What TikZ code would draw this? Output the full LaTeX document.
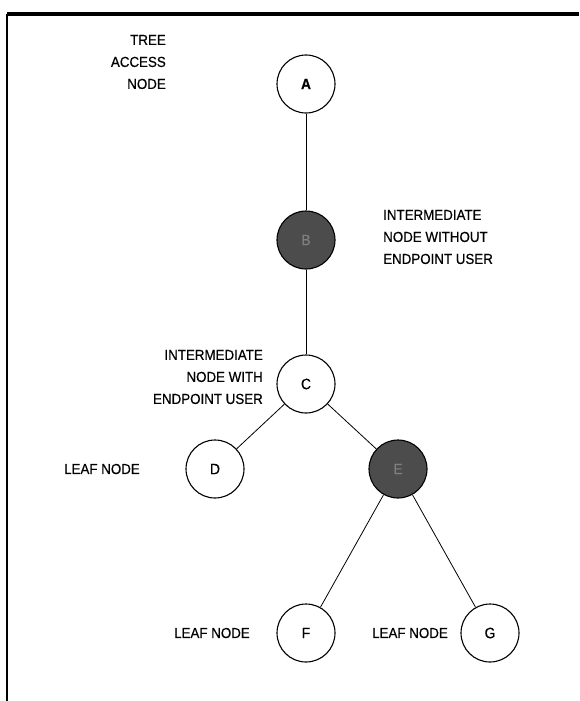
\documentclass[tikz,border=0pt]{standalone}
\usepackage{fontspec}
\setmainfont{Liberation Sans}[FakeStretch=0.92,FakeBold=0.5]
\begin{document}
\begin{tikzpicture}[x=1pt,y=-1pt,
  treenode/.style={circle,draw,line width=1.1pt,minimum size=58pt,inner sep=0pt,
    font=\fontsize{15}{15}\selectfont},
  darknode/.style={treenode,fill=black!70,text=black!50},
  caption/.style={inner sep=0pt,font=\fontsize{14.5}{22}\selectfont},
  edge/.style={line width=0.8pt}]
\useasboundingbox (0,0) rectangle (579,701);
% frame: heavy rule on top, thin rule on the left
\coordinate (tl) at (7,14);
\coordinate (tr) at (579,14);
\coordinate (bl) at (7,701);
\draw[line width=3.5pt] (tl) -- (tr);
\draw[line width=1.2pt] (tl) -- (bl);

% tree nodes
\node[treenode,font=\fontsize{15}{15}\selectfont\bfseries] (A) at (306,84) {A};
\node[darknode] (B) at (306,240) {B};
\node[treenode] (C) at (306,384) {C};
\node[treenode] (D) at (215,469) {D};
\node[darknode] (E) at (398,469) {E};
\node[treenode] (F) at (306,633) {F};
\node[treenode] (G) at (490,633) {G};

% links
\draw[edge] (A) -- (B);
\draw[edge] (B) -- (C);
\draw[edge] (C) -- (D);
\draw[edge] (C) -- (E);
\draw[edge] (E) -- (F);
\draw[edge] (E) -- (G);

% captions
\node[caption,align=right,anchor=east] (la) at (166,62) {TREE\\ACCESS\\NODE};
\node[caption,align=left,anchor=west] (lb) at (383,237) {INTERMEDIATE\\NODE WITHOUT\\ENDPOINT USER};
\node[caption,align=right,anchor=east] (lc) at (263,377) {INTERMEDIATE\\NODE WITH\\ENDPOINT USER};
\node[caption,anchor=east] (ld) at (140,469) {LEAF NODE};
\node[caption,anchor=east] (lf) at (250,633) {LEAF NODE};
\node[caption,anchor=west] (lg) at (372,633) {LEAF NODE};
\end{tikzpicture}
\end{document}
